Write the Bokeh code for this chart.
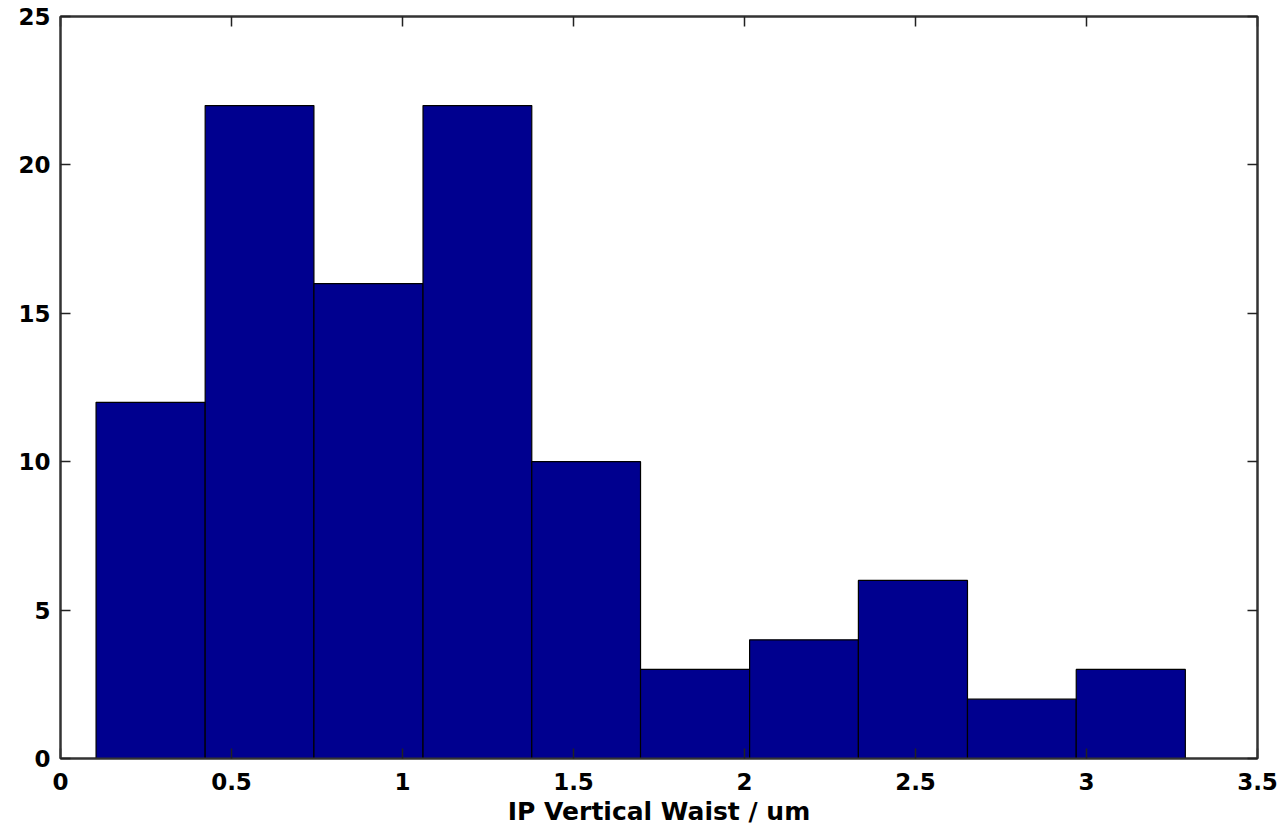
from bokeh.plotting import figure
from bokeh.models import LinearAxis, FixedTicker, Range1d
from bokeh.embed import file_html
from bokeh.resources import INLINE

# Histogram data
bin_edges = [0.104, 0.423, 0.741, 1.060, 1.378, 1.696, 2.015, 2.333, 2.652, 2.970, 3.289]
counts = [12, 22, 16, 22, 10, 3, 4, 6, 2, 3]
x_ticks = [0, 0.5, 1, 1.5, 2, 2.5, 3, 3.5]
y_ticks = [0, 5, 10, 15, 20, 25]
x_label = "IP Vertical Waist / um"

FONT = "DejaVu Sans"

p = figure(width=1280, height=834, output_backend="svg", toolbar_location=None,
           x_range=Range1d(0, 3.5), y_range=Range1d(0, 25),
           min_border_left=60, min_border_top=16, min_border_right=23, min_border_bottom=76,
           x_axis_location=None, y_axis_location=None)
p.grid.visible = False
p.background_fill_color = "white"
p.border_fill_color = "white"
p.outline_line_color = "#333333"
p.outline_line_width = 2

p.quad(left=bin_edges[:-1], right=bin_edges[1:], bottom=0, top=counts,
       fill_color="#00008F", line_color="black", line_width=1.2)

def fmt(v):
    return ("%g" % v)

def make_axis(ticks, labels=True):
    ax = LinearAxis(ticker=FixedTicker(ticks=ticks))
    ax.major_tick_in = 10
    ax.major_tick_out = 0
    ax.minor_tick_in = 0
    ax.minor_tick_out = 0
    ax.major_tick_line_color = "#222222"
    ax.major_tick_line_width = 1.5
    ax.axis_line_color = "#333333"
    ax.axis_line_width = 2
    ax.major_label_text_font = FONT
    ax.major_label_text_font_style = "bold"
    ax.major_label_text_font_size = "23px"
    ax.major_label_text_color = "black"
    ax.major_label_overrides = {t: fmt(t) for t in ticks}
    if not labels:
        ax.major_label_text_alpha = 0
        ax.major_label_text_font_size = "1px"
        ax.major_label_standoff = 0
    return ax

xb = make_axis(x_ticks)
xb.major_label_standoff = 14
xb.axis_label = x_label
xb.axis_label_text_font = FONT
xb.axis_label_text_font_style = "bold"
xb.axis_label_text_font_size = "25px"
xb.axis_label_text_color = "black"
xb.axis_label_standoff = 4
p.add_layout(xb, "below")

yl = make_axis(y_ticks)
yl.major_label_standoff = 10
p.add_layout(yl, "left")

xa = make_axis(x_ticks, labels=False)
p.add_layout(xa, "above")
yr = make_axis(y_ticks, labels=False)
p.add_layout(yr, "right")

open("out.html", "w").write(file_html(p, INLINE))
